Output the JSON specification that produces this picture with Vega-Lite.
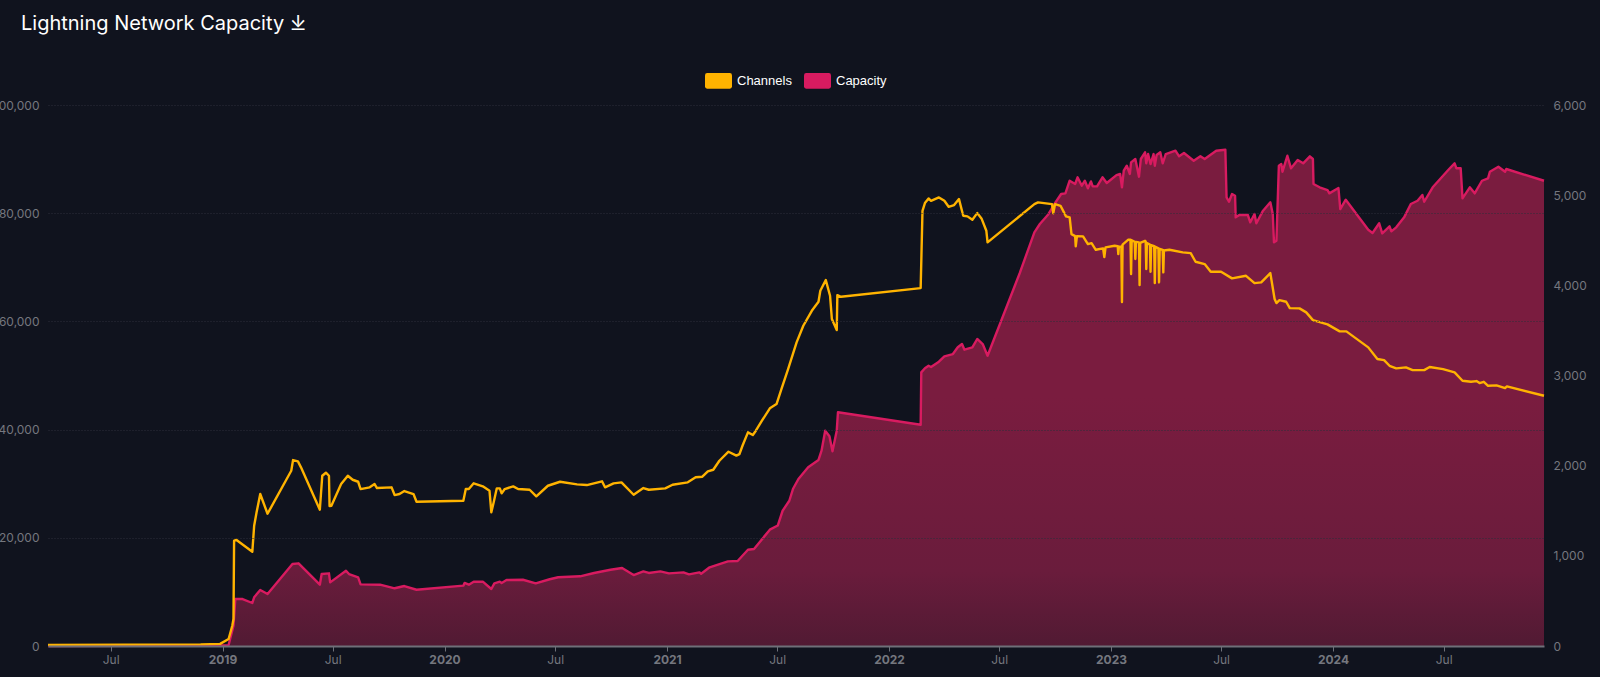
{
  "$schema": "https://vega.github.io/schema/vega-lite/v6.json",
  "autosize": {"type": "none"},
  "padding": {"left": 48, "right": 56, "top": 105, "bottom": 31},
  "width": 1496,
  "height": 541,
  "background": "#10131e",
  "title": {
    "text": "Lightning Network Capacity   ⤓",
    "anchor": "start",
    "frame": "group",
    "dx": -27,
    "offset": 33,
    "font": "Inter",
    "fontSize": 20,
    "fontWeight": 400,
    "color": "#ffffff"
  },
  "datasets": {
    "channels": [
      {"date":"2018-03-20","channels":200},{"date":"2018-11-26","channels":300},{"date":"2018-12-28","channels":400},{"date":"2019-01-11","channels":1290},{"date":"2019-01-17","channels":3750},{"date":"2019-01-19","channels":4990},{"date":"2019-01-20","channels":19460},{"date":"2019-01-24","channels":19590},{"date":"2019-02-19","channels":17430},{"date":"2019-02-22","channels":22230},{"date":"2019-02-26","channels":24710},{"date":"2019-03-04","channels":28090},{"date":"2019-03-16","channels":24450},{"date":"2019-04-24","channels":32400},{"date":"2019-04-27","channels":34370},{"date":"2019-05-05","channels":34130},{"date":"2019-05-10","channels":33020},{"date":"2019-06-10","channels":25190},{"date":"2019-06-14","channels":31470},{"date":"2019-06-20","channels":32030},{"date":"2019-06-25","channels":31470},{"date":"2019-06-26","channels":25870},{"date":"2019-06-29","channels":25930},{"date":"2019-07-15","channels":29940},{"date":"2019-07-26","channels":31470},{"date":"2019-08-03","channels":30730},{"date":"2019-08-12","channels":30360},{"date":"2019-08-16","channels":29010},{"date":"2019-08-31","channels":29330},{"date":"2019-09-08","channels":29940},{"date":"2019-09-12","channels":29200},{"date":"2019-10-06","channels":29330},{"date":"2019-10-11","channels":27900},{"date":"2019-10-19","channels":28090},{"date":"2019-10-27","channels":28640},{"date":"2019-11-11","channels":28090},{"date":"2019-11-16","channels":26670},{"date":"2020-02-01","channels":26850},{"date":"2020-02-05","channels":29010},{"date":"2020-02-10","channels":29010},{"date":"2020-02-18","channels":30070},{"date":"2020-03-04","channels":29510},{"date":"2020-03-15","channels":28700},{"date":"2020-03-18","channels":24710},{"date":"2020-03-22","channels":26610},{"date":"2020-03-27","channels":29140},{"date":"2020-04-01","channels":29140},{"date":"2020-04-04","channels":28220},{"date":"2020-04-09","channels":29010},{"date":"2020-04-23","channels":29510},{"date":"2020-05-01","channels":29010},{"date":"2020-05-20","channels":28880},{"date":"2020-05-31","channels":27660},{"date":"2020-06-19","channels":29620},{"date":"2020-07-09","channels":30360},{"date":"2020-08-06","channels":29880},{"date":"2020-08-22","channels":29750},{"date":"2020-09-16","channels":30440},{"date":"2020-09-21","channels":29330},{"date":"2020-10-05","channels":30070},{"date":"2020-10-18","channels":30250},{"date":"2020-11-07","channels":27960},{"date":"2020-11-23","channels":29200},{"date":"2020-12-02","channels":28880},{"date":"2020-12-29","channels":29140},{"date":"2021-01-10","channels":29810},{"date":"2021-02-04","channels":30250},{"date":"2021-02-17","channels":31180},{"date":"2021-02-28","channels":31290},{"date":"2021-03-09","channels":32290},{"date":"2021-03-18","channels":32580},{"date":"2021-03-28","channels":34240},{"date":"2021-04-12","channels":35910},{"date":"2021-04-25","channels":35200},{"date":"2021-04-30","channels":35480},{"date":"2021-05-05","channels":37020},{"date":"2021-05-14","channels":39490},{"date":"2021-05-22","channels":38990},{"date":"2021-05-27","channels":39790},{"date":"2021-06-06","channels":41640},{"date":"2021-06-19","channels":43930},{"date":"2021-06-30","channels":44720},{"date":"2021-07-08","channels":47490},{"date":"2021-07-19","channels":51190},{"date":"2021-08-02","channels":56120},{"date":"2021-08-13","channels":59190},{"date":"2021-08-27","channels":61960},{"date":"2021-09-07","channels":63630},{"date":"2021-09-10","channels":65660},{"date":"2021-09-19","channels":67640},{"date":"2021-09-26","channels":64740},{"date":"2021-09-29","channels":60430},{"date":"2021-10-07","channels":58400},{"date":"2021-10-08","channels":64860},{"date":"2021-10-14","channels":64550},{"date":"2022-02-22","channels":66160},{"date":"2022-02-25","channels":80440},{"date":"2022-03-01","channels":81870},{"date":"2022-03-07","channels":82730},{"date":"2022-03-11","channels":82290},{"date":"2022-03-24","channels":82920},{"date":"2022-04-02","channels":82290},{"date":"2022-04-09","channels":81180},{"date":"2022-04-18","channels":81500},{"date":"2022-04-26","channels":82610},{"date":"2022-05-03","channels":79520},{"date":"2022-05-10","channels":79410},{"date":"2022-05-18","channels":78780},{"date":"2022-05-26","channels":80020},{"date":"2022-06-02","channels":79040},{"date":"2022-06-10","channels":76750},{"date":"2022-06-12","channels":74600},{"date":"2022-08-28","channels":81680},{"date":"2022-09-03","channels":82000},{"date":"2022-09-26","channels":81680},{"date":"2022-09-28","channels":80000},{"date":"2022-10-01","channels":81680},{"date":"2022-10-10","channels":81370},{"date":"2022-10-19","channels":79410},{"date":"2022-10-25","channels":79220},{"date":"2022-10-28","channels":76140},{"date":"2022-11-03","channels":75770},{"date":"2022-11-04","channels":73860},{"date":"2022-11-06","channels":75770},{"date":"2022-11-16","channels":75710},{"date":"2022-11-24","channels":74290},{"date":"2022-11-30","channels":74470},{"date":"2022-12-07","channels":73240},{"date":"2022-12-19","channels":73500},{"date":"2022-12-21","channels":71890},{"date":"2022-12-23","channels":73680},{"date":"2023-01-07","channels":73980},{"date":"2023-01-12","channels":73900},{"date":"2023-01-13","channels":72440},{"date":"2023-01-14","channels":73800},{"date":"2023-01-18","channels":73800},{"date":"2023-01-19","channels":63570},{"date":"2023-01-20","channels":74200},{"date":"2023-01-29","channels":75080},{"date":"2023-02-02","channels":75080},{"date":"2023-02-03","channels":68750},{"date":"2023-02-04","channels":75000},{"date":"2023-02-09","channels":74700},{"date":"2023-02-10","channels":71520},{"date":"2023-02-11","channels":74700},{"date":"2023-02-16","channels":74600},{"date":"2023-02-17","channels":66710},{"date":"2023-02-18","channels":74500},{"date":"2023-02-26","channels":74900},{"date":"2023-02-27","channels":74800},{"date":"2023-02-28","channels":69670},{"date":"2023-03-01","channels":74500},{"date":"2023-03-06","channels":74200},{"date":"2023-03-07","channels":69170},{"date":"2023-03-08","channels":74100},{"date":"2023-03-13","channels":73900},{"date":"2023-03-14","channels":67080},{"date":"2023-03-15","channels":73800},{"date":"2023-03-20","channels":73500},{"date":"2023-03-21","channels":67210},{"date":"2023-03-22","channels":73400},{"date":"2023-03-27","channels":73200},{"date":"2023-03-28","channels":69060},{"date":"2023-03-29","channels":73100},{"date":"2023-04-07","channels":73240},{"date":"2023-04-29","channels":72760},{"date":"2023-05-12","channels":72630},{"date":"2023-05-20","channels":71020},{"date":"2023-06-04","channels":70590},{"date":"2023-06-14","channels":69170},{"date":"2023-07-01","channels":69170},{"date":"2023-07-19","channels":67950},{"date":"2023-08-11","channels":68430},{"date":"2023-08-25","channels":67080},{"date":"2023-09-05","channels":67210},{"date":"2023-09-20","channels":68930},{"date":"2023-09-27","channels":64130},{"date":"2023-09-30","channels":63390},{"date":"2023-10-05","channels":63940},{"date":"2023-10-16","channels":63630},{"date":"2023-10-22","channels":62460},{"date":"2023-11-07","channels":62410},{"date":"2023-11-18","channels":61670},{"date":"2023-11-29","channels":60240},{"date":"2023-12-23","channels":59450},{"date":"2024-01-12","channels":58160},{"date":"2024-01-23","channels":58160},{"date":"2024-02-28","channels":55200},{"date":"2024-03-14","channels":53040},{"date":"2024-03-25","channels":52850},{"date":"2024-04-03","channels":51800},{"date":"2024-04-14","channels":51320},{"date":"2024-04-30","channels":51500},{"date":"2024-05-11","channels":51000},{"date":"2024-05-30","channels":51000},{"date":"2024-06-08","channels":51560},{"date":"2024-06-30","channels":51190},{"date":"2024-07-19","channels":50580},{"date":"2024-08-01","channels":49030},{"date":"2024-08-15","channels":48840},{"date":"2024-08-24","channels":48970},{"date":"2024-08-29","channels":48600},{"date":"2024-09-05","channels":48840},{"date":"2024-09-12","channels":48100},{"date":"2024-09-26","channels":48180},{"date":"2024-10-10","channels":47680},{"date":"2024-10-13","channels":47990},{"date":"2024-12-13","channels":46260}
    ],
    "capacity": [
      {"date":"2018-03-20","capacity":0},{"date":"2019-01-08","capacity":5},{"date":"2019-01-11","capacity":11},{"date":"2019-01-19","capacity":225},{"date":"2019-01-22","capacity":521},{"date":"2019-02-03","capacity":521},{"date":"2019-02-19","capacity":477},{"date":"2019-02-22","capacity":540},{"date":"2019-03-04","capacity":621},{"date":"2019-03-16","capacity":577},{"date":"2019-04-26","capacity":909},{"date":"2019-05-06","capacity":917},{"date":"2019-06-10","capacity":680},{"date":"2019-06-13","capacity":798},{"date":"2019-06-25","capacity":806},{"date":"2019-06-27","capacity":706},{"date":"2019-07-23","capacity":835},{"date":"2019-07-28","capacity":798},{"date":"2019-08-12","capacity":762},{"date":"2019-08-16","capacity":684},{"date":"2019-09-17","capacity":680},{"date":"2019-10-11","capacity":640},{"date":"2019-10-27","capacity":665},{"date":"2019-11-16","capacity":624},{"date":"2020-02-01","capacity":669},{"date":"2020-02-03","capacity":699},{"date":"2020-02-10","capacity":680},{"date":"2020-02-18","capacity":713},{"date":"2020-03-04","capacity":713},{"date":"2020-03-18","capacity":632},{"date":"2020-03-23","capacity":695},{"date":"2020-04-01","capacity":713},{"date":"2020-04-04","capacity":699},{"date":"2020-04-12","capacity":732},{"date":"2020-05-09","capacity":735},{"date":"2020-05-30","capacity":695},{"date":"2020-06-22","capacity":740},{"date":"2020-07-06","capacity":762},{"date":"2020-08-11","capacity":773},{"date":"2020-09-03","capacity":810},{"date":"2020-09-30","capacity":846},{"date":"2020-10-19","capacity":865},{"date":"2020-11-07","capacity":787},{"date":"2020-11-23","capacity":828},{"date":"2020-12-02","capacity":810},{"date":"2020-12-21","capacity":828},{"date":"2021-01-04","capacity":806},{"date":"2021-01-28","capacity":817},{"date":"2021-02-06","capacity":795},{"date":"2021-02-23","capacity":817},{"date":"2021-02-26","capacity":802},{"date":"2021-03-12","capacity":873},{"date":"2021-04-11","capacity":939},{"date":"2021-04-27","capacity":943},{"date":"2021-05-14","capacity":1067},{"date":"2021-05-24","capacity":1076},{"date":"2021-06-19","capacity":1290},{"date":"2021-07-02","capacity":1336},{"date":"2021-07-10","capacity":1500},{"date":"2021-07-21","capacity":1611},{"date":"2021-07-27","capacity":1741},{"date":"2021-08-05","capacity":1852},{"date":"2021-08-21","capacity":1982},{"date":"2021-09-07","capacity":2063},{"date":"2021-09-12","capacity":2166},{"date":"2021-09-18","capacity":2388},{"date":"2021-09-25","capacity":2326},{"date":"2021-09-30","capacity":2159},{"date":"2021-10-07","capacity":2388},{"date":"2021-10-09","capacity":2592},{"date":"2022-02-22","capacity":2454},{"date":"2022-02-23","capacity":3035},{"date":"2022-03-01","capacity":3080},{"date":"2022-03-07","capacity":3108},{"date":"2022-03-11","capacity":3094},{"date":"2022-03-24","capacity":3153},{"date":"2022-04-02","capacity":3213},{"date":"2022-04-16","capacity":3238},{"date":"2022-04-24","capacity":3313},{"date":"2022-05-01","capacity":3349},{"date":"2022-05-05","capacity":3286},{"date":"2022-05-18","capacity":3313},{"date":"2022-05-26","capacity":3405},{"date":"2022-06-04","capacity":3349},{"date":"2022-06-12","capacity":3219},{"date":"2022-08-04","capacity":4137},{"date":"2022-08-28","capacity":4588},{"date":"2022-09-06","capacity":4680},{"date":"2022-09-19","capacity":4780},{"date":"2022-09-30","capacity":4902},{"date":"2022-10-11","capacity":5013},{"date":"2022-10-18","capacity":5020},{"date":"2022-10-25","capacity":5160},{"date":"2022-11-03","capacity":5124},{"date":"2022-11-07","capacity":5198},{"date":"2022-11-14","capacity":5105},{"date":"2022-11-19","capacity":5160},{"date":"2022-11-24","capacity":5076},{"date":"2022-11-29","capacity":5153},{"date":"2022-12-02","capacity":5098},{"date":"2022-12-09","capacity":5098},{"date":"2022-12-18","capacity":5198},{"date":"2022-12-25","capacity":5135},{"date":"2023-01-10","capacity":5223},{"date":"2023-01-16","capacity":5235},{"date":"2023-01-19","capacity":5087},{"date":"2023-01-22","capacity":5271},{"date":"2023-01-27","capacity":5327},{"date":"2023-02-01","capacity":5235},{"date":"2023-02-03","capacity":5364},{"date":"2023-02-10","capacity":5401},{"date":"2023-02-16","capacity":5205},{"date":"2023-02-19","capacity":5401},{"date":"2023-02-26","capacity":5475},{"date":"2023-02-28","capacity":5353},{"date":"2023-03-03","capacity":5456},{"date":"2023-03-07","capacity":5345},{"date":"2023-03-12","capacity":5456},{"date":"2023-03-14","capacity":5327},{"date":"2023-03-17","capacity":5445},{"date":"2023-03-23","capacity":5475},{"date":"2023-03-27","capacity":5353},{"date":"2023-04-01","capacity":5456},{"date":"2023-04-17","capacity":5493},{"date":"2023-04-23","capacity":5431},{"date":"2023-05-01","capacity":5467},{"date":"2023-05-17","capacity":5382},{"date":"2023-05-28","capacity":5431},{"date":"2023-06-04","capacity":5401},{"date":"2023-06-23","capacity":5493},{"date":"2023-07-08","capacity":5504},{"date":"2023-07-10","capacity":4976},{"date":"2023-07-14","capacity":4927},{"date":"2023-07-19","capacity":5013},{"date":"2023-07-24","capacity":4994},{"date":"2023-07-25","capacity":4754},{"date":"2023-07-31","capacity":4780},{"date":"2023-08-14","capacity":4780},{"date":"2023-08-18","capacity":4699},{"date":"2023-08-25","capacity":4791},{"date":"2023-08-28","capacity":4688},{"date":"2023-09-08","capacity":4828},{"date":"2023-09-20","capacity":4921},{"date":"2023-09-24","capacity":4791},{"date":"2023-09-26","capacity":4477},{"date":"2023-09-30","capacity":4495},{"date":"2023-10-04","capacity":5327},{"date":"2023-10-08","capacity":5345},{"date":"2023-10-10","capacity":5260},{"date":"2023-10-18","capacity":5437},{"date":"2023-10-24","capacity":5298},{"date":"2023-11-04","capacity":5390},{"date":"2023-11-13","capacity":5353},{"date":"2023-11-24","capacity":5431},{"date":"2023-11-29","capacity":5401},{"date":"2023-11-30","capacity":5124},{"date":"2023-12-10","capacity":5087},{"date":"2023-12-23","capacity":5057},{"date":"2023-12-26","capacity":5020},{"date":"2024-01-10","capacity":5079},{"date":"2024-01-13","capacity":4846},{"date":"2024-01-22","capacity":4950},{"date":"2024-02-28","capacity":4617},{"date":"2024-03-06","capacity":4580},{"date":"2024-03-17","capacity":4688},{"date":"2024-03-22","capacity":4577},{"date":"2024-04-03","capacity":4654},{"date":"2024-04-06","capacity":4599},{"date":"2024-04-14","capacity":4643},{"date":"2024-04-27","capacity":4754},{"date":"2024-05-08","capacity":4902},{"date":"2024-05-19","capacity":4938},{"date":"2024-05-27","capacity":5002},{"date":"2024-05-30","capacity":4927},{"date":"2024-06-13","capacity":5087},{"date":"2024-07-10","capacity":5290},{"date":"2024-07-19","capacity":5353},{"date":"2024-07-22","capacity":5298},{"date":"2024-07-29","capacity":5298},{"date":"2024-08-01","capacity":4965},{"date":"2024-08-13","capacity":5087},{"date":"2024-08-21","capacity":5020},{"date":"2024-09-02","capacity":5160},{"date":"2024-09-12","capacity":5187},{"date":"2024-09-15","capacity":5260},{"date":"2024-09-29","capacity":5315},{"date":"2024-10-10","capacity":5260},{"date":"2024-10-12","capacity":5290},{"date":"2024-12-13","capacity":5160}
    ]
  },
  "encoding": {
    "x": {
      "field": "date",
      "type": "temporal",
      "title": null,
      "scale": {"domain": ["2018-03-20", "2024-12-13"]},
      "axis": {
        "tickCount": {"interval": "month", "step": 6},
        "grid": false,
        "domainColor": "#6e7079",
        "domainWidth": 2,
        "tickColor": "#6e7079",
        "tickSize": 5,
        "tickWidth": 1,
        "labelPadding": 3,
        "labelColor": "#75777f",
        "labelFont": "Inter",
        "labelFontSize": 12,
        "labelFontWeight": {"condition": {"test": "month(datum.value) === 0", "value": "bold"}, "value": "normal"},
        "labelExpr": "month(datum.value) === 0 ? timeFormat(datum.value, '%Y') : timeFormat(datum.value, '%b')",
        "zindex": 1
      }
    }
  },
  "layer": [
    {
      "data": {"name": "capacity"},
      "encoding": {
        "y": {
          "field": "capacity",
          "type": "quantitative",
          "title": null,
          "scale": {"domain": [0, 6000], "nice": false},
          "axis": {
            "orient": "right",
            "values": [0, 1000, 2000, 3000, 4000, 5000, 6000],
            "format": ",d",
            "grid": false,
            "domain": false,
            "ticks": false,
            "labelPadding": 9,
            "labelColor": "#75777f",
            "labelFont": "Inter",
            "labelFontSize": 12
          }
        }
      },
      "layer": [
        {
          "mark": {
            "type": "area",
            "color": {
              "gradient": "linear",
              "x1": 0, "y1": 0, "x2": 0, "y2": 1,
              "stops": [
                {"offset": 0, "color": "#7a1c3f"},
                {"offset": 0.5, "color": "#7a1c3f"},
                {"offset": 0.85, "color": "#6a1c3c"},
                {"offset": 1, "color": "#511a33"}
              ]
            }
          }
        },
        {
          "mark": {"type": "line", "strokeWidth": 2.4, "strokeJoin": "round"},
          "encoding": {
            "color": {"datum": "Capacity"}
          }
        }
      ]
    },
    {
      "data": {"name": "channels"},
      "mark": {"type": "line", "strokeWidth": 2.4, "strokeJoin": "round"},
      "encoding": {
        "y": {
          "field": "channels",
          "type": "quantitative",
          "title": null,
          "scale": {"domain": [0, 100000], "nice": false},
          "axis": {
            "orient": "left",
            "values": [0, 20000, 40000, 60000, 80000, 100000],
            "format": ",d",
            "grid": true,
            "gridColor": "#2c2f3a",
            "gridDash": [1, 2],
            "gridWidth": 1,
            "domain": false,
            "ticks": false,
            "labelPadding": 9,
            "labelColor": "#75777f",
            "labelFont": "Inter",
            "labelFontSize": 12,
            "zindex": 1
          }
        },
        "color": {
          "datum": "Channels",
          "title": null,
          "scale": {"domain": ["Channels", "Capacity"], "range": ["#ffb300", "#d81b60"]},
          "legend": {
            "orient": "none",
            "legendX": 657,
            "legendY": -38,
            "direction": "horizontal",
            "columns": 2,
            "columnPadding": 12,
            "padding": 0,
            "symbolType": "M-0.84,-0.58H0.84Q1,-0.58 1,-0.4V0.4Q1,0.58 0.84,0.58H-0.84Q-1,0.58 -1,0.4V-0.4Q-1,-0.58 -0.84,-0.58Z",
            "symbolSize": 729,
            "symbolStrokeWidth": 0,
            "labelColor": "#ffffff",
            "labelFont": "Liberation Sans",
            "labelFontSize": 13,
            "labelOffset": 5,
            "encode": {
              "symbols": {"update": {"fill": {"scale": "color", "field": "value"}, "opacity": {"value": 1}}}
            }
          }
        }
      }
    }
  ],
  "resolve": {"scale": {"y": "independent"}},
  "config": {"view": {"stroke": null}}
}
